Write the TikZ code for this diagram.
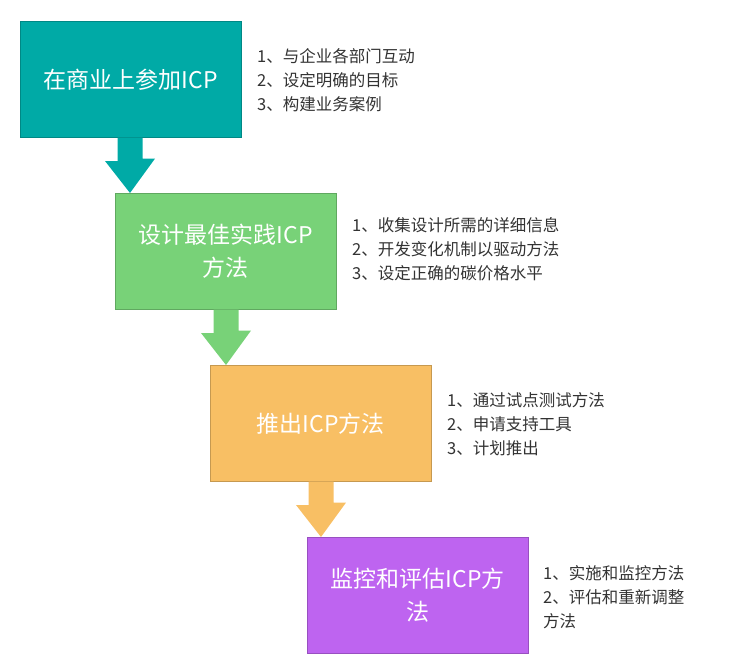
\documentclass[tikz,border=0pt]{standalone}
\usepackage{fontspec}
\setmainfont{Noto Sans CJK SC}
\definecolor{stepteal}{RGB}{0, 170, 166}
\definecolor{stepgreen}{RGB}{120, 210, 120}
\definecolor{steporange}{RGB}{248, 191, 100}
\definecolor{steppurple}{RGB}{190, 100, 240}
\begin{document}
\begin{tikzpicture}[x=1pt, y=-1pt,
  step/.style={draw=#1!80!black, fill=#1, line width=0.6pt, text=white,
    minimum width=221pt, minimum height=116pt, text width=210pt, align=center,
    font=\fontsize{23}{33}\selectfont, inner sep=0pt, anchor=north west},
  note/.style={anchor=north west, align=left, font=\fontsize{16.5}{24}\selectfont, text=black!80, inner sep=0pt}]
  \useasboundingbox (0,0) rectangle (747,672);
                    % Steps
                    \node[step=stepteal] (S1) at (20,21) {在商业上参加ICP};
                    \node[step=stepgreen] (S2) at (115,193) {设计最佳实践ICP\\方法};
                    \node[step=steporange] (S3) at (210,365) {推出ICP方法};
                    \node[step=steppurple] (S4) at (307,537) {监控和评估ICP方\\法};
                    
                    % Arrows
                    \foreach \a/\b/\c/\x in {S1/S2/stepteal/130, S2/S3/stepgreen/226, S3/S4/steporange/321}
                      \fill[\c] (\x-12.5,0 |- \a.south) -- (\x+12.5,0 |- \a.south) -- ++(0,21)
                        -- ++(12.5,0) -- (\x,0 |- \b.north) -- ++(-25,-32) -- ++(12.5,0) -- cycle;
                    
                    % Notes
                    \node[note] (N1) at (257,48) {1、与企业各部门互动\\2、设定明确的目标\\3、构建业务案例};
                    \node[note] (N2) at (352,217) {1、收集设计所需的详细信息\\2、开发变化机制以驱动方法\\3、设定正确的碳价格水平};
                    \node[note] (N3) at (447,392) {1、通过试点测试方法\\2、申请支持工具\\3、计划推出};
                    \node[note] (N4) at (543,565) {1、实施和监控方法\\2、评估和重新调整\\方法};
                \end{tikzpicture}
\end{document}
